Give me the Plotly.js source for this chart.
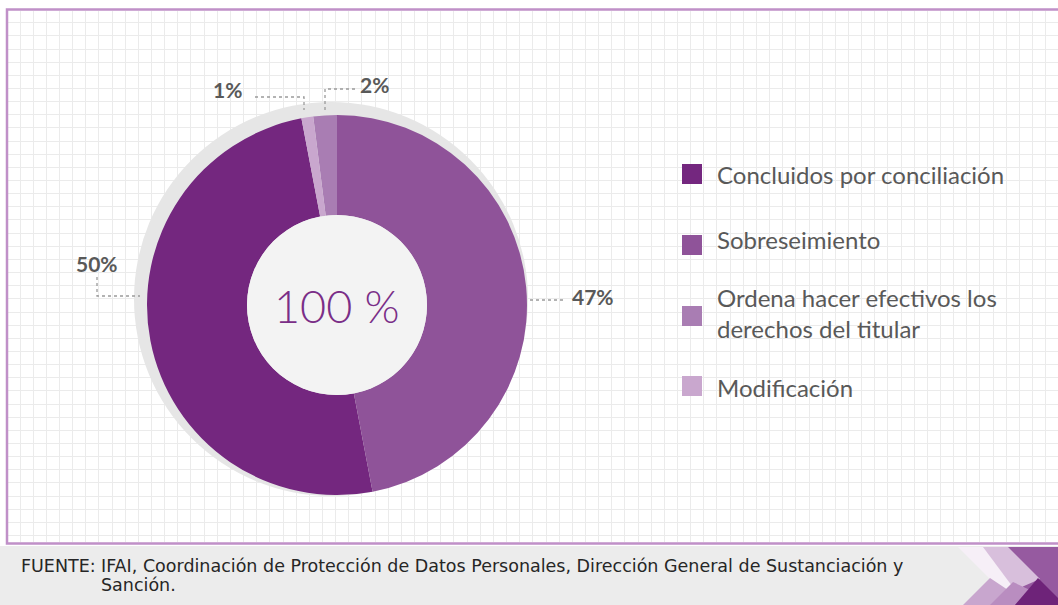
<!DOCTYPE html>
<html>
<head>
<meta charset="utf-8">
<script src="https://cdn.plot.ly/plotly-3.0.1.min.js"></script>
<style>
  html, body { margin: 0; padding: 0; background: #fff; }
  #plot { width: 1058px; height: 605px; }
</style>
</head>
<body>
<div id="plot"></div>
<script>
// data
const labels = ["Concluidos por conciliación", "Sobreseimiento", "Ordena hacer efectivos los derechos del titular", "Modificación"];
const legendText = ["Concluidos por conciliación", "Sobreseimiento", "Ordena hacer efectivos los<br>derechos del titular", "Modificación"];
const values = [50, 47, 2, 1];
const colors = ["#74277f", "#8f5399", "#a97db3", "#c9a7ce"];
const source = ["IFAI, Coordinación de Protección de Datos Personales, Dirección General de Sustanciación y", "Sanción."];

const W = 1058, H = 605;
// pixel -> paper helpers
const px = (x) => x / W;
const py = (y) => 1 - y / H;

const total = values.reduce((a, b) => a + b, 0);
const pct = values.map((v) => Math.round((v / total) * 100));

// main donut: centre (337,305), r 190
const cx = 337, cy = 305, R = 190, rHole = 90;

function domainFor(x, y, r) {
  return { x: [px(x - r), px(x + r)], y: [py(y + r), py(y - r)] };
}

// empty trace so the grid axes get drawn
const gridTrace = { type: "scatter", x: [], y: [], hoverinfo: "skip", showlegend: false };

const shadow = {
  type: "pie",
  values: [1],
  marker: { colors: ["#e6e6e6"], line: { width: 0 } },
  domain: domainFor(331, 299, 197),
  textinfo: "none",
  hoverinfo: "skip",
  showlegend: false,
  sort: false,
};

const donut = {
  type: "pie",
  labels: labels,
  values: values,
  marker: { colors: colors, line: { width: 0 } },
  hole: rHole / R,
  sort: false,
  direction: "counterclockwise",
  rotation: 169.2,
  domain: domainFor(cx, cy, R),
  textinfo: "none",
  hoverinfo: "label+percent",
  showlegend: false,
};

const holeFill = {
  type: "pie",
  values: [1],
  marker: { colors: ["#f3f3f3"], line: { width: 0 } },
  domain: domainFor(cx, cy, rHole),
  textinfo: "none",
  hoverinfo: "skip",
  showlegend: false,
  sort: false,
};

const annotations = [];
const shapes = [];

// footer band
shapes.push({ type: "rect", xref: "paper", yref: "paper", layer: "below",
  x0: 0, x1: 1, y0: 0, y1: py(546), fillcolor: "#ececec", line: { width: 0 } });

// frame
shapes.push({ type: "rect", xref: "paper", yref: "paper", layer: "above",
  x0: px(7), x1: px(1070), y0: py(543.5), y1: py(9.5),
  line: { color: "#c090c8", width: 2.5 } });

// centre text
annotations.push({ xref: "paper", yref: "paper", x: px(cx), y: py(cy + 1),
  text: pct.reduce((a, b) => a + b, 0) + " %", showarrow: false,
  xanchor: "center", yanchor: "middle",
  font: { family: "Lato", size: 45, color: "#7a2e87", weight: 300 } });

// percentage labels with dotted elbow leaders
const labelPos = [[97, 263], [593, 296], [374, 84], [227, 89]];
const leaders = [
  [[97, 277], [97, 296], [140, 296]],
  [[530, 300], [566, 300]],
  [[325, 110], [325, 89], [357, 89]],
  [[255, 97], [304, 97], [304, 110]],
];
pct.forEach((p, i) => {
  annotations.push({ xref: "paper", yref: "paper", x: px(labelPos[i][0]), y: py(labelPos[i][1]),
    text: "<b>" + p + "%</b>", showarrow: false, xanchor: "center", yanchor: "middle",
    font: { family: "Lato", size: 21, color: "#595959" } });
  const path = leaders[i].map((pt, k) => (k ? "L" : "M") + px(pt[0]) + "," + py(pt[1])).join(" ");
  shapes.push({ type: "path", xref: "paper", yref: "paper", layer: "above", path: path,
    line: { color: "#9a9a9a", width: 1.3, dash: "dot" } });
});

// legend (built by hand for the wide spacing)
const sqY = [174, 245, 316, 386];
const txtY = [175, 239, 313, 387];
labels.forEach((lab, i) => {
  shapes.push({ type: "rect", xref: "paper", yref: "paper", layer: "above",
    x0: px(682), x1: px(702), y0: py(sqY[i] + 10), y1: py(sqY[i] - 10),
    fillcolor: colors[i], line: { width: 0 } });
  annotations.push({ xref: "paper", yref: "paper", x: px(715), y: py(txtY[i]),
    text: legendText[i], showarrow: false, xanchor: "left", yanchor: "middle", align: "left",
    font: { family: "Lato", size: 24, color: "#595959" } });
});

// footer source
annotations.push({ xref: "paper", yref: "paper", x: px(19), y: py(566),
  text: "FUENTE:", showarrow: false, xanchor: "left", yanchor: "middle",
  font: { family: "DejaVu Sans", size: 17.5, color: "#262626" } });
source.forEach((s, i) => {
  annotations.push({ xref: "paper", yref: "paper", x: px(99), y: py(566 + i * 19),
    text: s, showarrow: false, xanchor: "left", yanchor: "middle",
    font: { family: "DejaVu Sans", size: 17.5, color: "#262626" } });
});

// footer chevrons
const poly = (pts, color) => ({ type: "path", xref: "paper", yref: "paper", layer: "above",
  path: pts.map((p, k) => (k ? "L" : "M") + px(p[0]) + "," + py(p[1])).join(" ") + " Z",
  fillcolor: color, line: { width: 0 } });
shapes.push(poly([[1008, 547], [1060, 547], [1060, 605], [1008, 605]], "#965aa0"));
shapes.push(poly([[958, 547], [983, 547], [1026, 590], [1001, 590]], "#f6eff7"));
shapes.push(poly([[983, 547], [1008, 547], [1040, 579], [1015, 590]], "#d8bfdc"));
shapes.push(poly([[963, 605], [990, 578], [1008, 590], [993, 605]], "#c8a6ce"));
shapes.push(poly([[990, 605], [1013, 582], [1030, 590], [1015, 605]], "#b98dc0"));
shapes.push(poly([[1015, 605], [1038, 578], [1060, 600], [1060, 605]], "#6e2379"));

const gridStep = 13.15;
const layout = {
  width: W,
  height: H,
  margin: { l: 0, r: 0, t: 0, b: 0 },
  paper_bgcolor: "#ffffff",
  plot_bgcolor: "#ffffff",
  showlegend: false,
  xaxis: {
    domain: [px(8), 1],
    range: [1 - 12 / gridStep, 1 - 12 / gridStep + 1050 / gridStep],
    dtick: 1, tick0: 0, showgrid: true, gridcolor: "#ebebeb", gridwidth: 1,
    showticklabels: false, zeroline: false, showline: false, ticks: "", fixedrange: true,
  },
  yaxis: {
    domain: [py(542), py(11)],
    range: [1 - 11.7 / gridStep + 531 / gridStep, 1 - 11.7 / gridStep],
    dtick: 1, tick0: 0, showgrid: true, gridcolor: "#ebebeb", gridwidth: 1,
    showticklabels: false, zeroline: false, showline: false, ticks: "", fixedrange: true,
  },
  shapes: shapes,
  annotations: annotations,
};

Plotly.newPlot("plot", [gridTrace, shadow, donut, holeFill], layout, { displayModeBar: false, staticPlot: true });
</script>
</body>
</html>
